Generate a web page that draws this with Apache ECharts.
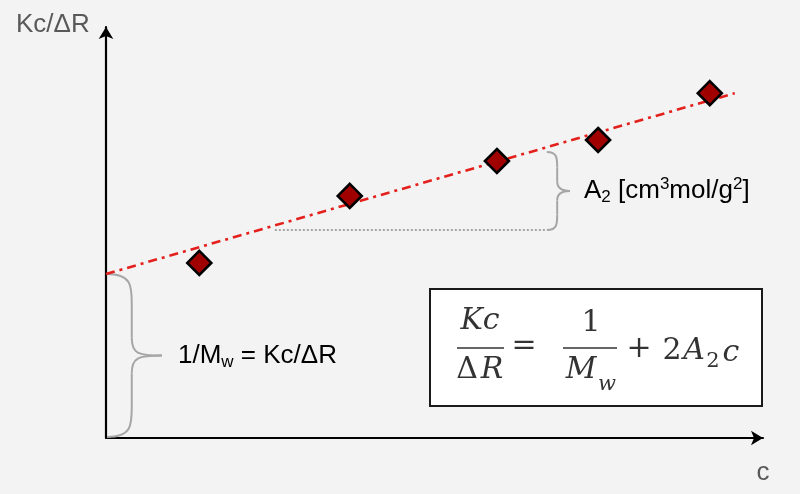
<!DOCTYPE html>
<html>
<head>
<meta charset="utf-8">
<script src="https://cdn.jsdelivr.net/npm/echarts@6/dist/echarts.min.js"></script>
<style>
html,body{margin:0;padding:0;background:#f3f3f3;}
#chart{width:800px;height:494px;}
</style>
</head>
<body>
<div id="chart"></div>
<script>
// concentration c (arbitrary units) and Kc/ΔR values
const concX = [1.42, 3.71, 5.95, 7.49, 9.19];
const kcValues = [4.26, 5.89, 6.74, 7.25, 8.39];
// fitted straight line (intercept = 1/Mw)
const fitX = [0, 9.57];
const fitY = [3.99, 8.39];
// A2 annotation: dotted baseline x range, baseline y and brace top y
const a2X = [2.57, 6.71];
const a2Y = [5.06, 6.96];

const GRAY_TXT = '#595959';
const BRACE = '#a6a6a6';
const FONT = '"Liberation Sans", Arial, sans-serif';
const SERIF = '"DejaVu Serif", serif';
const EQ = '#333333';

const chart = echarts.init(document.getElementById('chart'));

function makeAxis() {
  return {
    type: 'value', min: 0, max: 10,
    axisLine: { show: true, onZero: false, symbol: ['none', 'arrow'], symbolSize: [11, 12],
                lineStyle: { color: '#000', width: 2.2 } },
    axisTick: { show: false }, axisLabel: { show: false }, splitLine: { show: false }
  };
}

chart.setOption({
  backgroundColor: '#f3f3f3',
  animation: false,
  grid: { left: 106, top: 27, right: 37, bottom: 56 },
  xAxis: makeAxis(),
  yAxis: makeAxis(),
  series: [
    {
      type: 'line',
      data: fitX.map((x, i) => [x, fitY[i]]),
      symbol: 'none',
      lineStyle: { color: '#e3201b', width: 2.6, type: [9, 5, 3, 5] },
      z: 2
    },
    {
      type: 'scatter',
      data: concX.map((x, i) => [x, kcValues[i]]),
      symbol: 'diamond',
      symbolSize: [24, 24],
      itemStyle: { color: '#a00000', borderColor: '#000', borderWidth: 2.6, opacity: 1 },
      z: 3
    }
  ]
});

function px(x, y) { return chart.convertToPixel({ gridIndex: 0 }, [x, y]); }

// curly brace built from bezier curves and straight lines
function brace(x0, yTop, yBot, tipX) {
  const x1 = x0 + (tipX - x0) * 0.45;
  const ym = (yTop + yBot) / 2;
  const c = Math.min(30, (yBot - yTop) * 0.2);
  const st = { fill: null, stroke: BRACE, lineWidth: 2 };
  const bz = (a, b, c1, c2) => ({ type: 'bezierCurve', z: 1, silent: true,
    shape: { x1: a[0], y1: a[1], cpx1: c1[0], cpy1: c1[1], cpx2: c2[0], cpy2: c2[1], x2: b[0], y2: b[1] }, style: st });
  const ln = (a, b) => ({ type: 'line', z: 1, silent: true, shape: { x1: a[0], y1: a[1], x2: b[0], y2: b[1] }, style: st });
  return [
    bz([x0, yTop], [x1, yTop + c], [x1, yTop], [x1, yTop + c * 0.4]),
    ln([x1, yTop + c], [x1, ym - c * 0.6]),
    bz([x1, ym - c * 0.6], [tipX, ym], [x1, ym - 2], [x1 + 6, ym]),
    bz([tipX, ym], [x1, ym + c * 0.6], [x1 + 6, ym], [x1, ym + 2]),
    ln([x1, ym + c * 0.6], [x1, yBot - c]),
    bz([x1, yBot - c], [x0, yBot], [x1, yBot - c * 0.4], [x1, yBot])
  ];
}

const pInt = px(0, fitY[0]);
const pOrig = px(0, 0);
const pA = px(a2X[0], a2Y[0]);
const pB = px(a2X[1], a2Y[0]);
const pBt = px(a2X[1], a2Y[1]);

const baseTxt = { fill: GRAY_TXT, fontFamily: FONT, fontSize: 26 };
const richGray = {
  a: { fontSize: 26, fontFamily: FONT, color: GRAY_TXT, lineHeight: 30 },
  sub: { fontSize: 17, fontFamily: FONT, color: GRAY_TXT, lineHeight: 17, verticalAlign: 'bottom' },
  sup: { fontSize: 17, fontFamily: FONT, color: GRAY_TXT, lineHeight: 17, verticalAlign: 'top' }
};

const eqBox = { x: 430, y: 289, w: 332, h: 117 };
function eqText(t, x, y, opts) {
  return { type: 'text', z: 12, style: Object.assign({ text: t, x: x, y: y, fill: EQ, fontFamily: SERIF,
    fontSize: 30, align: 'center', verticalAlign: 'middle' }, opts || {}) };
}

const graphics = [
  { type: 'text', style: Object.assign({ text: 'Kc/ΔR', x: 16, y: 25, verticalAlign: 'middle' }, baseTxt) },
  { type: 'text', style: Object.assign({ text: 'c', x: 763, y: 473, align: 'center', verticalAlign: 'middle' }, baseTxt) },
  { type: 'text', style: { text: '{a|1/M}{sub|w}{a| = Kc/ΔR}', x: 178, y: (pInt[1] + pOrig[1]) / 2,
    verticalAlign: 'middle', rich: richGray } },
  { type: 'line', z: 1, shape: { x1: pA[0], y1: pA[1], x2: pB[0], y2: pB[1] },
    style: { stroke: '#a6a6a6', lineWidth: 2, lineDash: [2, 2] } },
  { type: 'text', style: { text: '{a|A}{sub|2}{a| [cm}{sup|3}{a|mol/g}{sup|2}{a|]}', x: 584, y: (pBt[1] + pB[1]) / 2,
    verticalAlign: 'middle', rich: richGray } },
  { type: 'rect', z: 10, shape: { x: eqBox.x, y: eqBox.y, width: eqBox.w, height: eqBox.h },
    style: { fill: '#ffffff', stroke: '#1a1a1a', lineWidth: 2 } },
  eqText('Kc', 480, 321, { fontStyle: 'italic' }),
  { type: 'line', z: 12, shape: { x1: 457, y1: 348, x2: 504, y2: 348 }, style: { stroke: EQ, lineWidth: 1.6 } },
  eqText('Δ', 467, 370),
  eqText('R', 492, 370, { fontStyle: 'italic' }),
  eqText('=', 524, 346),
  eqText('1', 591, 323),
  { type: 'line', z: 12, shape: { x1: 563, y1: 348, x2: 617, y2: 348 }, style: { stroke: EQ, lineWidth: 1.6 } },
  eqText('M', 581, 370, { fontStyle: 'italic' }),
  eqText('w', 607, 385, { fontStyle: 'italic', fontSize: 21 }),
  eqText('+', 639, 349),
  eqText('2', 672, 351),
  eqText('A', 694, 351, { fontStyle: 'italic' }),
  eqText('2', 713, 362, { fontSize: 21 }),
  eqText('c', 731, 353, { fontStyle: 'italic' })
].concat(
  brace(pInt[0] + 1, pInt[1], pOrig[1] - 1, pInt[0] + 56),
  brace(pB[0], pBt[1], pB[1], pB[0] + 23)
);

chart.setOption({ graphic: graphics });
</script>
</body>
</html>
